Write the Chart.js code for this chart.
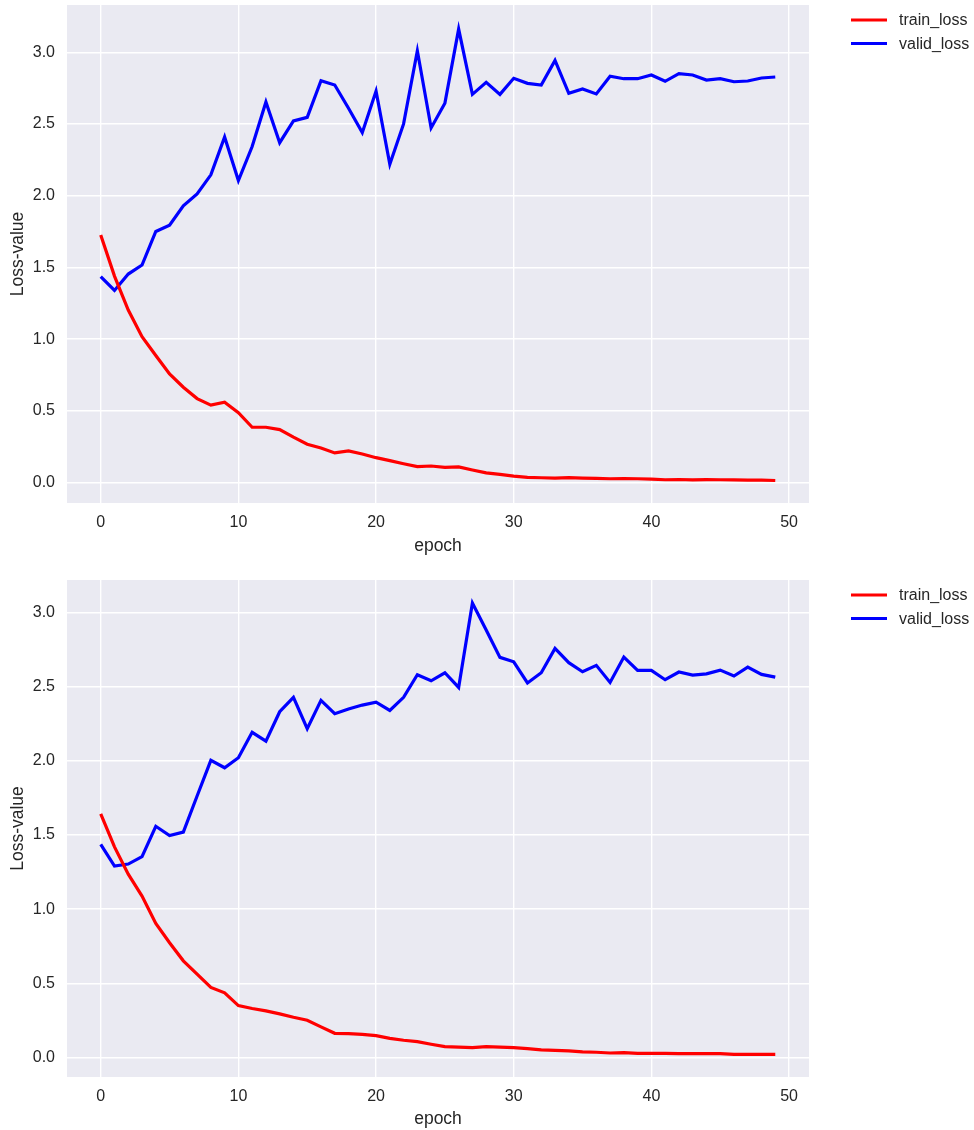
<!DOCTYPE html>
<html>
<head>
<meta charset="utf-8">
<script src="https://cdn.jsdelivr.net/npm/chart.js@4.4.1/dist/chart.umd.min.js"></script>
<style>
  body { margin: 0; background: #fff; overflow: hidden; }
  .box { position: absolute; left: 0; width: 974px; }
</style>
</head>
<body>
<div class="box" style="top:0;height:565px"><canvas id="c1"></canvas></div>
<div class="box" style="top:575px;height:555px"><canvas id="c2"></canvas></div>
<script>
const epochs = [0, 1, 2, 3, 4, 5, 6, 7, 8, 9, 10, 11, 12, 13, 14, 15, 16, 17, 18, 19,
  20, 21, 22, 23, 24, 25, 26, 27, 28, 29, 30, 31, 32, 33, 34, 35, 36, 37, 38, 39,
  40, 41, 42, 43, 44, 45, 46, 47, 48, 49];
const xTicks = [0, 10, 20, 30, 40, 50];
const yTicks = [0.0, 0.5, 1.0, 1.5, 2.0, 2.5, 3.0];

// top plot
const train1 = [1.727, 1.44, 1.203, 1.018, 0.886, 0.758, 0.665, 0.586, 0.540, 0.561,
  0.488, 0.386, 0.386, 0.370, 0.317, 0.268, 0.242, 0.207, 0.221, 0.200,
  0.174, 0.153, 0.132, 0.112, 0.116, 0.107, 0.110, 0.088, 0.068, 0.057,
  0.045, 0.037, 0.034, 0.032, 0.035, 0.032, 0.029, 0.027, 0.028, 0.027,
  0.025, 0.020, 0.022, 0.019, 0.021, 0.020, 0.019, 0.017, 0.017, 0.015];
const valid1 = [1.437, 1.340, 1.454, 1.517, 1.751, 1.795, 1.930, 2.013, 2.146, 2.410,
  2.106, 2.343, 2.654, 2.370, 2.522, 2.547, 2.802, 2.772, 2.610, 2.440,
  2.730, 2.220, 2.501, 3.011, 2.473, 2.645, 3.162, 2.707, 2.791, 2.707,
  2.819, 2.784, 2.772, 2.944, 2.714, 2.744, 2.710, 2.833, 2.816, 2.816,
  2.842, 2.798, 2.851, 2.842, 2.807, 2.816, 2.795, 2.800, 2.821, 2.828];

// bottom plot
const train2 = [1.642, 1.42, 1.236, 1.088, 0.903, 0.773, 0.651, 0.561, 0.471, 0.435,
  0.349, 0.329, 0.313, 0.293, 0.270, 0.250, 0.205, 0.162, 0.160, 0.155,
  0.146, 0.128, 0.115, 0.106, 0.088, 0.072, 0.068, 0.065, 0.072, 0.068,
  0.065, 0.059, 0.050, 0.047, 0.043, 0.036, 0.034, 0.029, 0.032, 0.027,
  0.027, 0.027, 0.025, 0.025, 0.025, 0.025, 0.020, 0.020, 0.020, 0.020];
const valid2 = [1.437, 1.291, 1.304, 1.354, 1.559, 1.496, 1.520, 1.763, 2.004, 1.954,
  2.022, 2.193, 2.134, 2.332, 2.429, 2.218, 2.409, 2.319, 2.350, 2.377,
  2.397, 2.341, 2.429, 2.582, 2.541, 2.595, 2.496, 3.065, 2.883, 2.699,
  2.669, 2.526, 2.595, 2.759, 2.663, 2.602, 2.645, 2.530, 2.701, 2.611,
  2.611, 2.548, 2.600, 2.579, 2.588, 2.613, 2.573, 2.633, 2.584, 2.566];

const FONT = "'Liberation Sans', Arial, sans-serif";
const TEXT = '#262626';

// seaborn-like grey plot background
const plotBg = {
  id: 'plotBg',
  beforeDraw(chart) {
    const { ctx, chartArea: a } = chart;
    ctx.save();
    ctx.fillStyle = '#EAEAF2';
    ctx.fillRect(a.left, a.top, a.right - a.left, a.bottom - a.top);
    ctx.restore();
  }
};

// legend outside the plot, to the right
const sideLegend = {
  id: 'sideLegend',
  afterDraw(chart) {
    const { ctx, chartArea: a } = chart;
    ctx.save();
    ctx.font = '16px ' + FONT;
    ctx.textBaseline = 'middle';
    chart.data.datasets.forEach((ds, i) => {
      const y = a.top + 15 + i * 23.5;
      ctx.strokeStyle = ds.borderColor;
      ctx.lineWidth = 3;
      ctx.beginPath();
      ctx.moveTo(a.right + 42, y);
      ctx.lineTo(a.right + 78, y);
      ctx.stroke();
      ctx.fillStyle = TEXT;
      ctx.fillText(ds.label, a.right + 90, y + 1);
    });
    ctx.restore();
  }
};

function makeChart(id, train, valid, yMin, yMax, xAxisH, titlePad) {
  const toPts = arr => epochs.map((e, i) => ({ x: e, y: arr[i] }));
  return new Chart(document.getElementById(id), {
    type: 'line',
    data: {
      datasets: [
        { label: 'train_loss', data: toPts(train), borderColor: '#ff0000', borderWidth: 3.2, pointRadius: 0, tension: 0 },
        { label: 'valid_loss', data: toPts(valid), borderColor: '#0000ff', borderWidth: 3.2, pointRadius: 0, tension: 0 }
      ]
    },
    options: {
      responsive: true,
      maintainAspectRatio: false,
      animation: false,
      devicePixelRatio: 1,
      layout: { padding: { top: 5, left: 0, right: 165, bottom: 0 } },
      plugins: { legend: { display: false }, tooltip: { enabled: false } },
      scales: {
        x: {
          type: 'linear',
          min: -2.45,
          max: 51.45,
          afterBuildTicks: s => { s.ticks = xTicks.map(v => ({ value: v })); },
          afterFit: s => { s.height = xAxisH; s.paddingLeft = 0; s.paddingRight = 0; },
          grid: { color: '#ffffff', lineWidth: 1.4, drawTicks: false },
          border: { display: false },
          ticks: { color: TEXT, font: { family: FONT, size: 16 }, padding: 10, maxRotation: 0 },
          title: { display: true, text: 'epoch', color: TEXT, font: { family: FONT, size: 17.5 }, padding: { top: 0, bottom: titlePad } }
        },
        y: {
          min: yMin,
          max: yMax,
          afterBuildTicks: s => { s.ticks = yTicks.map(v => ({ value: v })); },
          afterFit: s => { s.width = 67; s.paddingTop = 0; s.paddingBottom = 0; },
          grid: { color: '#ffffff', lineWidth: 1.4, drawTicks: false },
          border: { display: false },
          ticks: { color: TEXT, font: { family: FONT, size: 16 }, padding: 12, callback: v => v.toFixed(1) },
          title: { display: true, text: 'Loss-value', color: TEXT, font: { family: FONT, size: 17.5 }, padding: { top: 8, bottom: 0 } }
        }
      }
    },
    plugins: [plotBg, sideLegend]
  });
}

makeChart('c1', train1, valid1, -0.142, 3.33, 62, 8);
makeChart('c2', train2, valid2, -0.133, 3.221, 53, 0);
</script>
</body>
</html>
